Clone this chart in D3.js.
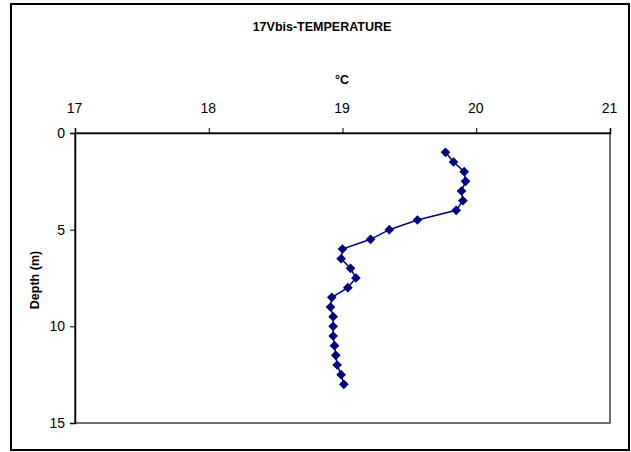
<!DOCTYPE html>
<html>
<head>
<meta charset="utf-8">
<script src="https://cdn.jsdelivr.net/npm/d3@7"></script>
<style>
  html, body { margin: 0; padding: 0; background: #fff; }
  svg { display: block; }
  text { font-family: "Liberation Sans", Arial, sans-serif; fill: #000; }
</style>
</head>
<body>
<svg id="chart" width="631" height="452"></svg>
<script>
// Temperature profile, station 17Vbis
const depths = [1, 1.5, 2, 2.5, 3, 3.5, 4, 4.5, 5, 5.5, 6, 6.5, 7, 7.5, 8, 8.5, 9, 9.5, 10, 10.5, 11, 11.5, 12, 12.5, 13];
const temperatures = [19.77, 19.83, 19.91, 19.92, 19.89, 19.90, 19.85, 19.56, 19.35, 19.21, 19.00, 18.99, 19.06, 19.10, 19.04, 18.92, 18.91, 18.93, 18.93, 18.93, 18.94, 18.95, 18.96, 18.99, 19.01];
const tempTicks = [17, 18, 19, 20, 21];
const depthTicks = [0, 5, 10, 15];

const tickFont = "'Liberation Sans Narrow', 'Liberation Sans', Arial, sans-serif";

const svg = d3.select("#chart");
const plot = { left: 75, right: 610, top: 133, bottom: 423 };

// outer frame
svg.append("rect")
  .attr("x", 11).attr("y", 4).attr("width", 618).attr("height", 446)
  .attr("fill", "none").attr("stroke", "#000").attr("stroke-width", 2);

const x = d3.scaleLinear().domain([17, 21]).range([plot.left, plot.right]);
const y = d3.scaleLinear().domain([0, 15]).range([plot.top, plot.bottom]);

// plot area box
svg.append("rect")
  .attr("x", plot.left).attr("y", plot.top)
  .attr("width", plot.right - plot.left).attr("height", plot.bottom - plot.top)
  .attr("fill", "none").attr("stroke", "#404040").attr("stroke-width", 1.5);

// top temperature axis
const xAxis = svg.append("g")
  .attr("transform", `translate(0,${plot.top})`)
  .call(d3.axisTop(x).tickValues(tempTicks).tickFormat(d3.format("d")).tickSize(5).tickPadding(15));
xAxis.select(".domain").attr("stroke", "#000").attr("stroke-width", 1.5);
xAxis.selectAll(".tick line").attr("stroke", "#000");
xAxis.selectAll("text").attr("font-size", 14).style("font-family", tickFont).attr("dx", -1);

// left depth axis
const yAxis = svg.append("g")
  .attr("transform", `translate(${plot.left},0)`)
  .call(d3.axisLeft(y).tickValues(depthTicks).tickSize(5).tickPadding(5));
yAxis.select(".domain").attr("stroke", "#000").attr("stroke-width", 1.5);
yAxis.selectAll(".tick line").attr("stroke", "#000");
yAxis.selectAll("text").attr("font-size", 14).style("font-family", tickFont);

// titles
svg.append("text")
  .attr("x", 322).attr("y", 31)
  .attr("text-anchor", "middle")
  .attr("font-size", 12.5).attr("font-weight", "bold")
  .text("17Vbis-TEMPERATURE");

svg.append("text")
  .attr("x", 342).attr("y", 84)
  .attr("text-anchor", "middle")
  .attr("font-size", 12.5).attr("font-weight", "bold")
  .text("°C");

svg.append("text")
  .attr("transform", `translate(39,${(plot.top + plot.bottom) / 2 + 2}) rotate(-90)`)
  .attr("text-anchor", "middle")
  .attr("font-size", 12.5).attr("font-weight", "bold")
  .text("Depth (m)");

const points = depths.map((d, i) => ({ depth: d, temp: temperatures[i] }));

// profile line
svg.append("path")
  .datum(points)
  .attr("fill", "none")
  .attr("stroke", "#000080")
  .attr("stroke-width", 1.5)
  .attr("d", d3.line().x(p => x(p.temp)).y(p => y(p.depth)));

// diamond markers
const diamond = d3.symbol().type(d3.symbolDiamond2).size(60);
svg.append("g").selectAll("path")
  .data(points)
  .join("path")
  .attr("transform", p => `translate(${x(p.temp)},${y(p.depth)})`)
  .attr("d", diamond)
  .attr("fill", "#000080");
</script>
</body>
</html>
